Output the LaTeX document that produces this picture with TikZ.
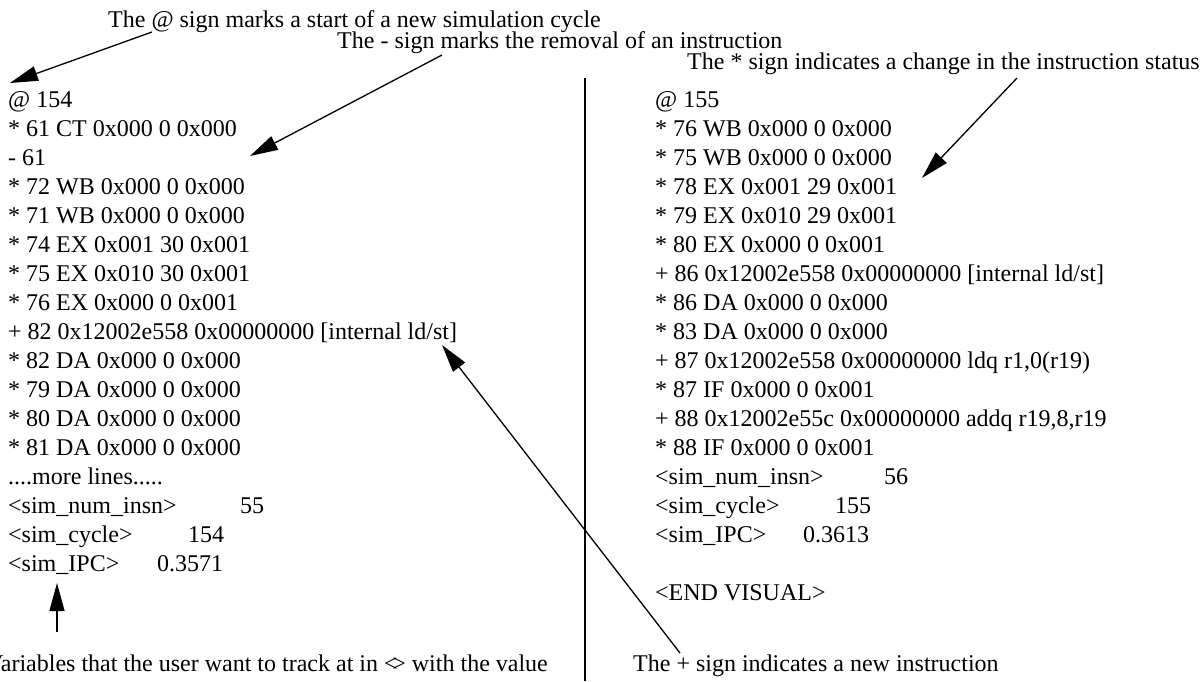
\documentclass[tikz,border=0pt]{standalone}
\usepackage{fontspec}
\setmainfont{Liberation Serif}
\usetikzlibrary{arrows.meta}
\begin{document}
\begin{tikzpicture}[x=1pt,y=-1pt,
  txt/.style={anchor=base west, inner sep=0pt, font=\fontsize{24}{29}\selectfont},
  arr/.style={line width=1.3pt, -{Triangle[length=28pt,width=15pt]}},
  sepline/.style={line width=2pt}]
\useasboundingbox (0,0) rectangle (1202,681);
\clip (0,0) rectangle (1202,681);
% annotations
\node[txt] (nat)  at (108,27) {The @ sign marks a start of a new simulation cycle};
\node[txt] (nmin) at (337,48) {The - sign marks the removal of an instruction};
\node[txt] (nstar) at (687,69) {The * sign indicates a change in the instruction status};
\node[txt] (nvar) at (-14,671) {Variables that the user want to track at in <\kern-0.22em> with the value};
\node[txt] (nplus) at (633,671) {The + sign indicates a new instruction};
% left column
\node[txt] (l0)  at (8,107) {@ 154};
\node[txt] (l1)  at (8,136) {* 61 CT 0x000 0 0x000};
\node[txt] (l2)  at (8,165) {- 61};
\node[txt] (l3)  at (8,194) {* 72 WB 0x000 0 0x000};
\node[txt] (l4)  at (8,223) {* 71 WB 0x000 0 0x000};
\node[txt] (l5)  at (8,252) {* 74 EX 0x001 30 0x001};
\node[txt] (l6)  at (8,281) {* 75 EX 0x010 30 0x001};
\node[txt] (l7)  at (8,310) {* 76 EX 0x000 0 0x001};
\node[txt] (l8)  at (8,339) {+ 82 0x12002e558 0x00000000 [internal ld/st]};
\node[txt] (l9)  at (8,368) {* 82 DA 0x000 0 0x000};
\node[txt] (l10) at (8,397) {* 79 DA 0x000 0 0x000};
\node[txt] (l11) at (8,426) {* 80 DA 0x000 0 0x000};
\node[txt] (l12) at (8,455) {* 81 DA 0x000 0 0x000};
\node[txt] (l13) at (8,484) {....more lines.....};
\node[txt] (l14) at (8,513) {\makebox[232pt][l]{<sim\_num\_insn>}55};
\node[txt] (l15) at (8,542) {\makebox[180pt][l]{<sim\_cycle>}154};
\node[txt] (l16) at (8,571) {\makebox[149pt][l]{<sim\_IPC>}0.3571};
% right column
\node[txt] (r0)  at (655,107) {@ 155};
\node[txt] (r1)  at (655,136) {* 76 WB 0x000 0 0x000};
\node[txt] (r2)  at (655,165) {* 75 WB 0x000 0 0x000};
\node[txt] (r3)  at (655,194) {* 78 EX 0x001 29 0x001};
\node[txt] (r4)  at (655,223) {* 79 EX 0x010 29 0x001};
\node[txt] (r5)  at (655,252) {* 80 EX 0x000 0 0x001};
\node[txt] (r6)  at (655,281) {+ 86 0x12002e558 0x00000000 [internal ld/st]};
\node[txt] (r7)  at (655,310) {* 86 DA 0x000 0 0x000};
\node[txt] (r8)  at (655,339) {* 83 DA 0x000 0 0x000};
\node[txt] (r9)  at (655,368) {+ 87 0x12002e558 0x00000000 ldq r1,0(r19)};
\node[txt] (r10) at (655,397) {* 87 IF 0x000 0 0x001};
\node[txt] (r11) at (655,426) {+ 88 0x12002e55c 0x00000000 addq r19,8,r19};
\node[txt] (r12) at (655,455) {* 88 IF 0x000 0 0x001};
\node[txt] (r13) at (655,484) {\makebox[229pt][l]{<sim\_num\_insn>}56};
\node[txt] (r14) at (655,513) {\makebox[180pt][l]{<sim\_cycle>}155};
\node[txt] (r15) at (655,542) {\makebox[148pt][l]{<sim\_IPC>}0.3613};
\node[txt] (r17) at (655,600) {<END VISUAL>};
% separator
\coordinate (septop) at (585,78);
\coordinate (sepbot) at (585,681);
\draw[sepline] (septop) -- (sepbot);
% arrow end points
\coordinate (aS) at (152,32);  \coordinate (aE) at (10,83);
\coordinate (bS) at (442,55);  \coordinate (bE) at (250,156);
\coordinate (cS) at (1017,78); \coordinate (cE) at (922,178);
\coordinate (dS) at (680,653); \coordinate (dE) at (442,345);
\coordinate (eS) at (57,632);  \coordinate (eE) at (57,583);
\draw[arr] (aS) -- (aE);
\draw[arr] (bS) -- (bE);
\draw[arr] (cS) -- (cE);
\draw[arr] (dS) -- (dE);
\draw[arr] (eS) -- (eE);
\end{tikzpicture}
\end{document}
